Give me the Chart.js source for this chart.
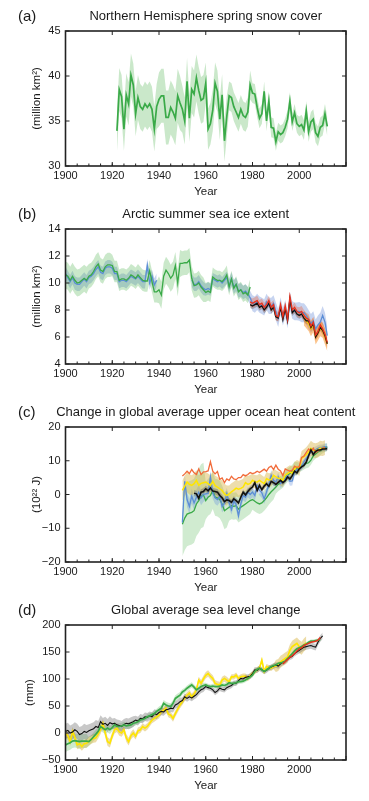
<!DOCTYPE html>
<html>
<head>
<meta charset="utf-8">
<script src="https://cdn.jsdelivr.net/npm/chart.js@4"></script>
<style>
  body { margin: 0; background: #fff; }
  #wrap { position: relative; width: 369px; height: 801px; font-family: 'Liberation Sans', Arial, sans-serif; color: #1a1a1a; }
  .panel { position: absolute; left: 0; width: 369px; height: 198px; }
  .panel canvas { position: absolute; left: 0; top: 0; }
  .tag { position: absolute; left: 18px; top: 7px; font-size: 15px; line-height: 18px; }
  .ttl { position: absolute; left: 205.75px; top: 8px; transform: translateX(-50%); white-space: nowrap; font-size: 13px; line-height: 16px; }
</style>
</head>
<body>
<div id="wrap">
  <div class="panel" style="top:0px"><canvas id="chartA" width="369" height="198"></canvas><span class="tag">(a)</span><span class="ttl">Northern Hemisphere spring snow cover</span></div>
  <div class="panel" style="top:198px"><canvas id="chartB" width="369" height="198"></canvas><span class="tag">(b)</span><span class="ttl">Arctic summer sea ice extent</span></div>
  <div class="panel" style="top:396px"><canvas id="chartC" width="369" height="198"></canvas><span class="tag">(c)</span><span class="ttl">Change in global average upper ocean heat content</span></div>
  <div class="panel" style="top:594px"><canvas id="chartD" width="369" height="198"></canvas><span class="tag">(d)</span><span class="ttl">Global average sea level change</span></div>
</div>
<script>
// (a) spring snow cover, million km2, 1922-2012
const snowStart = 1922;
const snowCover = [33.9,38.5,37.7,34.1,37.9,36.9,40.1,39.0,35.8,37.6,
  36.6,36.3,36.9,36.5,36.9,36.3,34.1,36.6,37.4,37.8,
  37.8,35.4,35.4,36.5,36.0,35.3,37.8,37.0,36.3,35.0,
  39.4,35.3,38.5,38.0,39.8,38.4,37.3,37.5,39.2,34.1,
  34.7,36.2,39.2,38.3,35.2,37.9,32.8,35.5,37.8,37.6,
  36.6,36.0,35.4,36.3,35.6,35.4,36.0,39.0,38.1,38.0,
  36.5,35.3,35.8,38.3,35.0,37.2,34.3,34.2,32.7,33.8,
  33.5,33.7,34.3,35.2,37.2,34.9,35.9,34.7,34.4,34.6,
  34.0,36.1,33.8,34.9,35.2,33.7,33.3,34.3,34.5,35.8,
  34.4];
// band half-widths, one per decade from the 1900s
const snowHalf = [0,0,2.4,2.5,3.0,2.6,2.3,1.6,1.1,1.0,1.1,1.1];

// (b) summer sea ice extent, million km2
const iceGreen = [10.6,10.5,10.2,10.5,10.2,10.0,10.05,10.2,10.35,10.2,
  10.5,10.6,10.85,11.2,11.4,10.95,10.85,11.2,11.35,11.35,
  11.3,10.85,10.85,10.2,10.3,10.3,10.2,10.35,10.6,10.5,
  10.35,10.6,10.4,10.2,10.15,10.15,10.9,10.1,9.35,9.35,
  9.5,9.1,10.5,10.95,10.7,10.35,10.6,11.3,10.0,11.45,
  11.45,11.5,11.5,11.7,10.35,9.8,9.85,10.0,9.7,9.5,
  9.3,9.4,9.3,10.45,10.3,10.2,10.2,10.1,10.3,10.6,
  9.7,10.3,9.6,9.9,9.35,9.5,9.2,9.3,9.1,9.7]; // 1900-1979
const iceBlueEarly = [10.7,10.4,10.1,10.4,10.0,9.9,9.9,10.1,10.3,10.1,
  10.4,10.5,10.7,11.0,11.2,10.8,10.7,11.1,11.2,11.2,
  11.1,10.7,10.7,10.1,10.2,10.2,10.1,10.3,10.5,10.4,
  10.3,10.5,10.3,10.1,10.1,11.3,10.0,10.5,9.85,10.2]; // 1900-1939
const iceBlueLate = [10.2,9.9,9.9,10.1,9.8,9.6,
  9.5,9.6,9.5,10.3,10.2,10.1,10.2,10.0,10.2,10.4,
  9.8,10.3,9.7,9.9,9.4,9.5,9.3,9.4,9.2,8.9,
  8.5,8.4,8.6,8.4,8.3,8.2,8.6,8.3,8.3,8.5,
  7.9,7.4,8.3,7.5,8.1,7.3,8.7,8.0,7.9,7.9,
  7.9,7.8,7.8,7.6,7.3,7.0,7.2,6.6,6.9,7.1,
  7.6,7.1,6.1]; // 1954-2012
const iceRed = [8.6,
  8.5,8.6,8.7,8.4,8.5,8.2,8.4,8.7,8.2,8.4,
  7.6,7.5,8.4,7.5,8.3,7.3,9.0,8.0,8.2,7.9,
  7.8,7.9,7.6,7.4,7.3,6.8,7.1,6.15,6.4,6.9,
  6.6,6.2,5.6]; // 1979-2012
const iceBlack = [8.4,
  8.3,8.4,8.5,8.2,8.3,8.0,8.2,8.5,8.0,8.2,
  7.5,7.4,8.2,7.3,8.1,7.2,8.8,7.8,8.0,7.7,
  7.6,7.7,7.4,7.2,7.2,6.7,7.0,6.0,6.3,6.7,
  6.5,6.1,5.5]; // 1979-2012
const iceYellow = [7.4,7.2,7.0,6.6,6.9,6.0,6.3,6.6,6.5,6.0,5.5]; // 2002-2012
const iceGreenHalf = [1.0,0.9,0.8,0.8,1.0,0.9,0.7,0.6];
const iceBlueHalf = [0.5,0.5,0.5,0.5,0.5,0.5,0.45,0.5,0.6,0.65,0.7,0.7];
const iceRedHalf = [0,0,0,0,0,0,0,0.35,0.35,0.35,0.4,0.45];
const iceBlackHalf = [0,0,0,0,0,0,0,0.25,0.25,0.25,0.25,0.25];
const iceYellowHalf = [0,0,0,0,0,0,0,0,0,0,0.55,0.55];

// (c) upper ocean heat content, 10^22 J
const ohcOrange = [5.5,6.1,6.9,6.2,7.4,6.4,5.9,7.6,5.9,6.7,
  6.8,7.0,9.7,6.9,6.1,6.8,4.5,4.9,3.5,4.6,
  4.2,5.4,4.6,4.4,5.0,5.0,5.9,5.5,5.9,6.5,
  6.2,6.4,6.9,6.5,7.0,7.5,6.9,8.0,8.4,7.4,
  8.7,7.5,7.0,5.6,7.6,7.2,6.9,7.2,8.4,8.0,
  8.3,11.0,11.4,12.5,13.5,12.8,13.7,12.4,12.9,13.2,
  13.7,14.0]; // 1950-2011
const ohcYellow = [1.2,2.5,3.7,3.0,2.7,3.2,4.2,2.7,3.3,3.5,
  3.7,3.2,2.7,3.9,2.6,2.2,1.7,1.2,0.2,-0.3,
  0.2,0.8,1.3,1.9,1.6,1.8,2.2,3.5,3.0,3.3,
  4.2,3.8,3.7,4.2,3.7,3.2,4.7,4.3,4.4,5.7,
  5.2,4.8,4.7,4.2,5.7,6.2,6.7,6.3,7.6,8.2,
  7.7,10.7,11.2,11.8,12.7,13.7,13.1,13.0,13.2,13.7,
  13.6,13.9]; // 1950-2011
const ohcBlack = [0.4,0.2,-1.1,0.7,0.9,
  1.7,1.1,1.9,1.0,0.9,0.7,-0.3,-1.0,-2.1,-1.6,
  -1.8,-2.3,-1.3,-1.8,-2.5,-0.8,0.7,-0.1,0.9,1.7,
  2.2,3.5,1.2,2.7,1.4,2.5,3.2,2.4,3.9,3.5,
  3.0,3.6,4.2,3.5,4.1,5.2,4.6,5.6,6.9,6.4,
  7.6,8.2,8.6,9.6,11.5,13.2,11.8,12.8,13.2,13.2,
  13.5,13.5,13.6]; // 1955-2012
const ohcBlue = [-8.3,3.9,-1.5,-3.5,-0.5,-2.5,-0.8,0.7,-1.0,0.0,
  0.2,0.3,5.2,0.5,-1.0,-1.5,-0.5,-3.5,-2.5,0.2,
  -2.5,-4.5,-2.0,-3.0,-6.3,-2.8,-0.3,-0.8,0.7,0.0,
  0.7,-0.3,2.7,1.2,0.5,-1.3,0.7,3.2,5.7,4.2,
  3.7,5.2,3.2,3.8,4.7,5.7,3.9,4.0,6.6,7.3,
  7.7,8.2,9.7,10.7,11.7,12.7,13.0,13.2,13.6,13.8,
  13.9,14.2,14.0]; // 1950-2012
const ohcGreen = [-8.8,-7.0,-5.8,-5.5,-5.3,-4.8,-2.8,-1.8,-0.5,-0.1,
  -1.8,-0.8,-0.3,1.2,-0.8,-1.0,-1.5,-2.8,-4.8,-4.3,
  -3.8,-3.3,-3.5,-3.3,-4.3,-3.8,-3.3,-2.8,-2.3,-1.8,
  -1.5,-2.0,-2.5,-2.8,-2.5,-1.8,-1.0,0.0,0.8,1.5,
  2.2,3.0,3.5,4.0,5.0,5.7,6.2,6.8,7.8,7.6,
  8.0,8.4,8.8,9.2,9.4,10.2,11.4,12.0,12.6,13.0,
  13.4,13.8,14.1]; // 1950-2012
const ohcGreenHalf = [0,0,0,0,0,9.5,5.5,4,3,2,1.4,1.2];
const ohcYellowHalf = [0,0,0,0,0,3,3,2.5,2,2,2.2,2.2];
const ohcBlueHalf = [0,0,0,0,0,2.2,1.8,1.5,1.5,1.3,1.0,1.0];
const ohcBlackHalf = [0,0,0,0,0,0.9,0.9,0.8,0.8,0.7,0.7,0.7];

// (d) global mean sea level, mm
const slBlack = [3,5,0,2,6,3,-3,-1,3,1,
  4,6,8,12,10,21,16,18,14,19,
  17,18,15,14,12,16,18,17,19,21,
  24,22,27,26,30,29,32,30,36,34,
  38,40,39,43,44,46,45,52,54,58,
  60,67,64,67,65,68,71,76,80,82,
  86,84,83,80,75,78,83,81,80,84,
  86,88,92,92,97,101,100,103,104,105,
  110,117,116,120,117,114,116,120,122,124,
  126,124,128,131,133,137,140,142,147,150,
  153,156,159,160,161,162,160,159,168,175,
  180]; // 1900-2010
const slYellow = [0,-5,-16,3,-8,-22,-20,-25,-20,-19,
  -15,-12,-10,-9,-2,6,18,0,-16,-19,
  -5,6,9,2,0,6,-9,-16,-5,0,
  -6,4,6,12,9,12,18,24,27,30,
  33,40,42,46,35,33,27,36,44,52,
  58,65,70,74,67,72,80,98,92,100,
  107,110,105,101,92,90,89,98,101,98,
  95,104,104,107,101,104,105,105,101,106,
  110,114,117,120,135,114,123,121,120,123,
  124,126,132,135,138,141,153,160,163,166,
  160,157,163,167]; // 1900-2003
const slGreen = [-22,-20,-18,-15,-14,-15,-16,-15,-15,-15,
  -16,-12,-7,-2,3,12,9,6,9,6,
  10,15,12,12,13,15,13,14,15,18,
  19,21,24,25,27,30,32,34,36,40,
  43,46,55,52,50,49,55,64,67,70,
  76,79,83,86,89,85,80,83,86,88,
  89,87,86,87,86,86,87,89,88,90,
  93,92,92,93,95,95,96,98,101,104,
  107,114,118,120,117,114,117,120,123,125,
  126,129,130,131,133,138,142,147,152,156,
  158,160,163,165,168,170,170,171,172,173]; // 1900-2009
const slRed = [128,132,136,140,143,147,152,156,158,162,164,166,168,169,170,172,177]; // 1993-2009
const slBlackHalf = [14,12,10,8,7,6,5,5,5,5,6,6];
const slYellowHalf = [8,8,7,6,6,6,6,5,5,11,12,12];
const slGreenHalf = [13,8,6,5,6,5,4,4,4,3,3,3];

Chart.defaults.font.family = "'Liberation Sans', Arial, sans-serif";
Chart.defaults.font.size = 11;
Chart.defaults.color = '#1a1a1a';

function pts(start, vals) {
  return vals.map((v, i) => ({x: start + i, y: v}));
}
function edge(start, vals, half, sign) {
  return vals.map((v, i) => {
    const h = half[Math.floor((start + i - 1900) / 10)];
    return {x: start + i, y: v + sign * h};
  });
}
function line(start, vals, color, width) {
  return {data: pts(start, vals), borderColor: color, borderWidth: width || 1.3,
          pointRadius: 0, fill: false, order: 0};
}
function band(list, start, vals, half, color) {
  const hidden = {borderWidth: 0, borderColor: 'rgba(0,0,0,0)', pointRadius: 0, order: 1};
  list.push(Object.assign({data: edge(start, vals, half, -1), fill: false}, hidden));
  list.push(Object.assign({data: edge(start, vals, half, 1), fill: '-1', backgroundColor: color}, hidden));
}

// box with inward ticks, minor ticks every 5 years along the bottom
const frame = {
  id: 'frame',
  afterDraw(chart) {
    const {ctx, chartArea: a, scales: {x, y}} = chart;
    ctx.save();
    ctx.strokeStyle = '#222';
    ctx.lineWidth = 1;
    ctx.beginPath();
    x.ticks.forEach(t => {
      const px = x.getPixelForValue(t.value);
      ctx.moveTo(px, a.bottom); ctx.lineTo(px, a.bottom - 4);
      ctx.moveTo(px, a.top); ctx.lineTo(px, a.top + 4);
    });
    for (let yr = x.min + 5; yr < x.max; yr += 5) {
      const px = x.getPixelForValue(yr);
      ctx.moveTo(px, a.bottom); ctx.lineTo(px, a.bottom - 2.5);
    }
    y.ticks.forEach(t => {
      const py = y.getPixelForValue(t.value);
      ctx.moveTo(a.left, py); ctx.lineTo(a.left + 4, py);
      ctx.moveTo(a.right, py); ctx.lineTo(a.right - 4, py);
    });
    ctx.stroke();
    ctx.lineWidth = 1.6;
    ctx.strokeRect(a.left, a.top, a.right - a.left, a.bottom - a.top);
    ctx.restore();
  }
};

function makeChart(id, datasets, yMin, yMax, yStep, yTitle, padLeft) {
  return new Chart(document.getElementById(id), {
    type: 'line',
    data: {datasets},
    options: {
      responsive: false,
      animation: false,
      events: [],
      layout: {padding: {left: padLeft, right: 23, top: 31, bottom: 0}},
      plugins: {
        legend: {display: false},
        tooltip: {enabled: false},
        filler: {drawTime: 'beforeDatasetsDraw'}
      },
      elements: {line: {tension: 0}},
      scales: {
        x: {
          type: 'linear', min: 1900, max: 2020,
          grid: {display: false, drawTicks: false},
          border: {display: false},
          ticks: {stepSize: 20, padding: 3, maxRotation: 0, autoSkip: false,
                  callback: v => v < 2020 ? String(v) : ''},
          title: {display: true, text: 'Year', padding: 0, font: {size: 11.5, lineHeight: 1}},
          afterFit: s => { s.height = 32; }
        },
        y: {
          type: 'linear', min: yMin, max: yMax,
          grid: {display: false, drawTicks: false},
          border: {display: false},
          ticks: {stepSize: yStep, padding: 5, callback: v => String(v).replace('-', '\u2212')},
          title: {display: true, text: yTitle, padding: 0, font: {size: 11.5}},
          afterFit: s => { s.width = 65.5 - padLeft; }
        }
      }
    },
    plugins: [frame]
  });
}

// (a)
const dsA = [line(snowStart, snowCover, '#3aaa48', 1.7)];
band(dsA, snowStart, snowCover, snowHalf, 'rgba(90,185,90,0.32)');
makeChart('chartA', dsA, 30, 45, 5, '(million km\u00B2)', 30.4);

// (b)
const dsB = [
  line(1979, iceRed, '#e8321e'),
  line(1979, iceBlack, '#111111'),
  line(2002, iceYellow, '#ffd000'),
  line(1900, iceGreen, '#3aaa48'),
  line(1900, iceBlueEarly, '#5b8ed6'),
  line(1954, iceBlueLate, '#5b8ed6')
];
band(dsB, 2002, iceYellow, iceYellowHalf, 'rgba(250,140,30,0.5)');
band(dsB, 1979, iceRed, iceRedHalf, 'rgba(235,110,80,0.4)');
band(dsB, 1979, iceBlack, iceBlackHalf, 'rgba(80,80,80,0.35)');
band(dsB, 1900, iceGreen, iceGreenHalf, 'rgba(90,185,90,0.32)');
band(dsB, 1900, iceBlueEarly, iceBlueHalf, 'rgba(90,130,210,0.34)');
band(dsB, 1954, iceBlueLate, iceBlueHalf, 'rgba(90,130,210,0.34)');
makeChart('chartB', dsB, 4, 14, 2, '(million km\u00B2)', 30.4);

// (c)
const dsC = [
  line(1955, ohcBlack, '#111111', 1.6),
  line(1950, ohcOrange, '#f26b3a'),
  line(1950, ohcYellow, '#ffe600', 1.5),
  line(1950, ohcBlue, '#5b8ed6'),
  line(1950, ohcGreen, '#3aaa48')
];
band(dsC, 1955, ohcBlack, ohcBlackHalf, 'rgba(90,90,90,0.35)');
band(dsC, 1950, ohcYellow, ohcYellowHalf, 'rgba(215,180,70,0.45)');
band(dsC, 1950, ohcBlue, ohcBlueHalf, 'rgba(110,150,220,0.35)');
band(dsC, 1950, ohcGreen, ohcGreenHalf, 'rgba(100,190,100,0.3)');
makeChart('chartC', dsC, -20, 20, 10, '(10\u00B2\u00B2 J)', 30.4);

// (d)
const dsD = [
  line(1993, slRed, '#e8321e', 1.5),
  line(1900, slGreen, '#3aaa48', 1.7),
  line(1900, slBlack, '#111111', 1.1),
  line(1900, slYellow, '#ffe600', 1.6)
];
band(dsD, 1900, slBlack, slBlackHalf, 'rgba(110,110,110,0.38)');
band(dsD, 1900, slYellow, slYellowHalf, 'rgba(220,185,80,0.5)');
band(dsD, 1900, slGreen, slGreenHalf, 'rgba(100,190,100,0.32)');
makeChart('chartD', dsD, -50, 200, 50, '(mm)', 23.4);
</script>
</body>
</html>
